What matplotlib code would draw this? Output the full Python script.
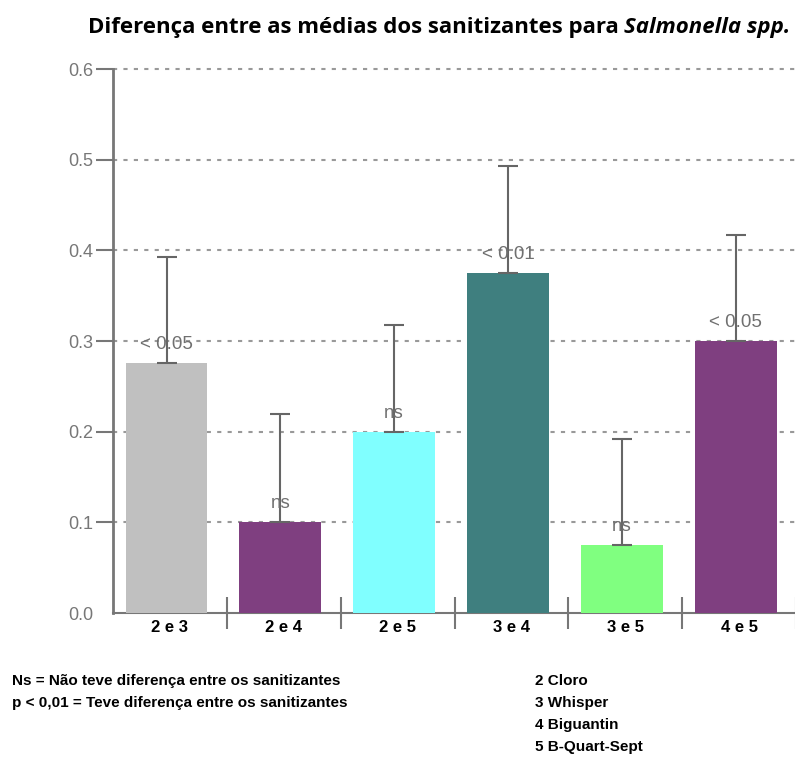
import matplotlib
matplotlib.use("Agg")
import matplotlib.pyplot as plt
import numpy as np

categories = ["2 e 3", "2 e 4", "2 e 5", "3 e 4", "3 e 5", "4 e 5"]
means = [0.276, 0.100, 0.200, 0.375, 0.075, 0.300]
errors = [0.117, 0.119, 0.118, 0.118, 0.117, 0.117]
signif = ["< 0.05", "ns", "ns", "< 0.01", "ns", "< 0.05"]
colors = ["#C0C0C0", "#7F3F80", "#80FFFF", "#3F7F7F", "#80FF80", "#7F3F80"]
yticks = [0.0, 0.1, 0.2, 0.3, 0.4, 0.5, 0.6]
title_main = "Diferença entre as médias dos sanitizantes para "
title_ital = "Salmonella spp."
notes_left = ["Ns = Não teve diferença entre os sanitizantes",
              "p < 0,01 = Teve diferença entre os sanitizantes"]
notes_right = ["2 Cloro", "3 Whisper", "4 Biguantin", "5 B-Quart-Sept"]

W, H = 795, 758
fig = plt.figure(figsize=(W / 100, H / 100), dpi=100)
ax = fig.add_axes([113 / W, 1 - 613 / H, (796 - 113) / W, (613 - 69) / H])

arial = ["Liberation Sans", "DejaVu Sans"]

x = np.arange(len(categories))
ax.bar(x - 0.03, means, width=0.72, color=colors, zorder=3)
ax.errorbar(x - 0.03, means, yerr=[np.zeros(len(errors)), errors], fmt="none",
            ecolor="#666666", elinewidth=1.5, capsize=7.5, capthick=1.5, zorder=4)
for xi, m, s in zip(x, means, signif):
    ax.annotate(s, (xi - 0.03, m), xytext=(0, 10), textcoords="offset points",
                ha="center", va="baseline", fontsize=13.5, family=arial,
                color="#707070", zorder=5)

ax.set_xlim(-0.5, len(categories) - 0.5)
ax.set_ylim(0, 0.6)
ax.set_yticks(yticks)
ax.set_yticklabels([f"{v:.1f}" for v in yticks], color="#777777", fontsize=13,
                   family=arial)
for v in yticks[1:]:
    ax.axhline(v, color="#999999", linestyle=(0, (2, 3)), linewidth=1.5,
               zorder=1, clip_on=False)

ax.set_xticks(x)
ax.set_xticklabels(categories, fontsize=12, fontweight="bold", family=arial)
ax.tick_params(axis="x", length=0, pad=5)
ax.set_xticks(np.arange(len(categories)) + 0.5, minor=True)
ax.tick_params(axis="x", which="minor", direction="inout", length=23,
               width=1.5, color="#777777")
ax.tick_params(axis="y", direction="out", length=12, width=1.5,
               color="#777777", pad=2)
ax.yaxis.get_major_ticks()[0].tick1line.set_visible(False)

for side in ["top", "right"]:
    ax.spines[side].set_visible(False)
ax.spines["left"].set_color("#777777")
ax.spines["left"].set_linewidth(2)
ax.spines["bottom"].set_color("#777777")
ax.spines["bottom"].set_linewidth(1.5)

# Title: bold normal + bold italic, fitted to the reference width
fig.canvas.draw()
r = fig.canvas.get_renderer()
tfont = ["Open Sans", "DejaVu Sans"]
fs = 14
t1 = fig.text(88 / W, 1 - 27 / H, title_main, fontsize=fs, fontweight="bold",
              family=tfont, va="center", ha="left")
t2 = fig.text(0, 1 - 27 / H, title_ital, fontsize=fs, fontweight="bold",
              style="italic", family=tfont, va="center", ha="left")
for _ in range(3):
    b1 = t1.get_window_extent(renderer=r)
    t2.set_x(b1.x1 / W)
    b2 = t2.get_window_extent(renderer=r)
    total = b2.x1 - b1.x0
    fs = fs * 702 / total
    t1.set_fontsize(fs)
    t2.set_fontsize(fs)
b1 = t1.get_window_extent(renderer=r)
t2.set_x(b1.x1 / W)

for i, s in enumerate(notes_left):
    fig.text(12 / W, 1 - (681 + i * 22) / H, s, fontsize=11, fontweight="bold",
             family=arial, va="center", ha="left")
for i, s in enumerate(notes_right):
    fig.text(535 / W, 1 - (681 + i * 22) / H, s, fontsize=11, fontweight="bold",
             family=arial, va="center", ha="left")

fig.savefig("out.png", dpi=100)
